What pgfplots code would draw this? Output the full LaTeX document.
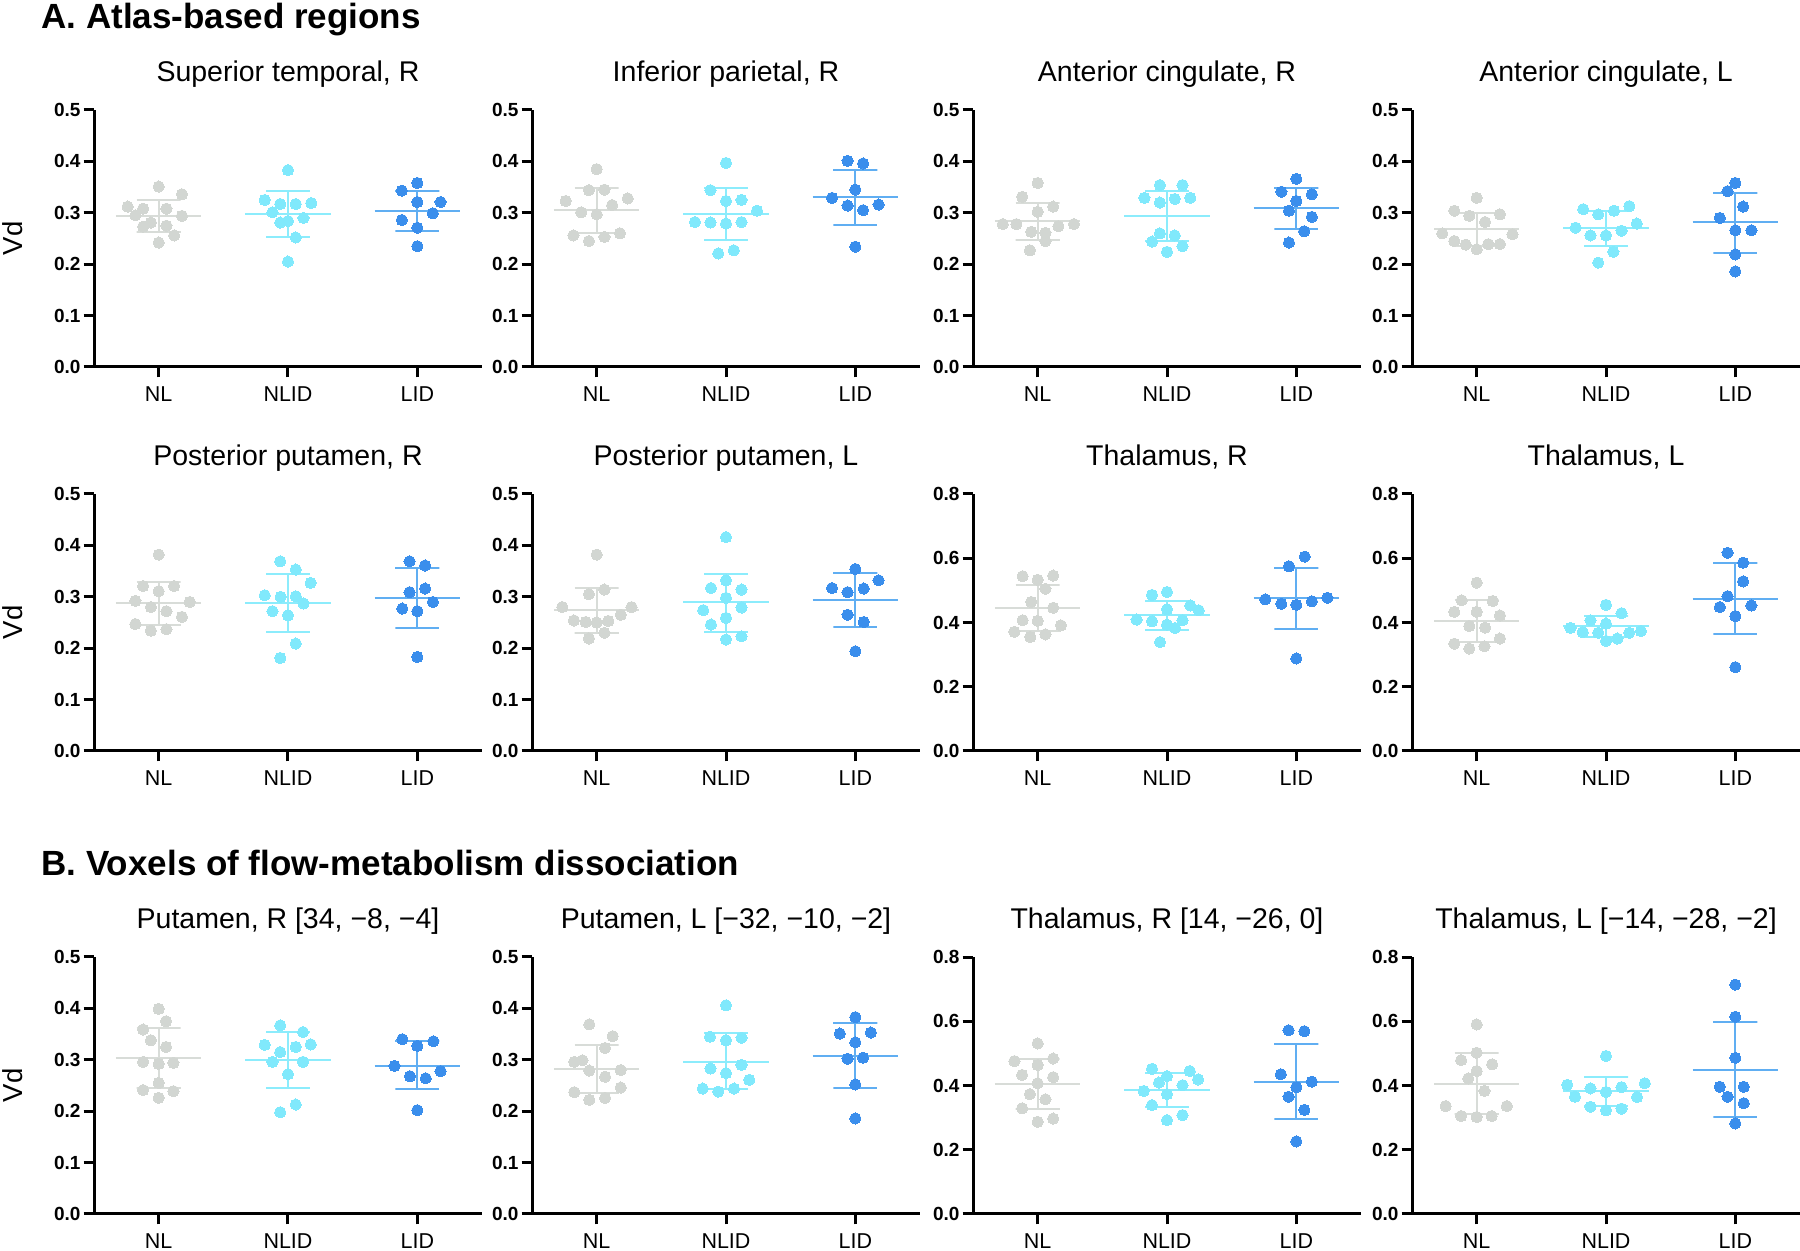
\documentclass[border=0pt]{standalone}
\usepackage{fontspec}
\setmainfont{Liberation Sans}
\usepackage{pgfplots}
\pgfplotsset{compat=1.18}
\definecolor{cNL}{RGB}{210,214,210}
\definecolor{cNLl}{RGB}{216,220,216}
\definecolor{cNLID}{RGB}{128,233,252}
\definecolor{cNLIDl}{RGB}{140,236,252}
\definecolor{cLID}{RGB}{58,142,236}
\definecolor{cLIDl}{RGB}{96,174,242}
\pgfplotsset{
 panel/.style={
  scale only axis, width=155.2pt, height=102.8pt, anchor=south west,
  xmin=-0.5, xmax=2.5, ymin=0, clip=false,
  axis x line=bottom, axis y line=left,
  axis line style={line width=1.2pt, black, -},
  xtick={0,1,2}, xticklabels={NL,NLID,LID},
  tick align=outside, major tick length=4.2pt,
  tick style={line width=1.2pt, black},
  minor tick num=0,
  /pgf/number format/assume math mode=true,
  yticklabel style={font=\bfseries\fontsize{7.6}{8}\selectfont, inner sep=1pt,
     /pgf/number format/fixed, /pgf/number format/precision=1, /pgf/number format/fixed zerofill},
  xticklabel style={font=\fontsize{8.6}{9}\selectfont},
  title style={font=\fontsize{11.4}{13}\selectfont, at={(axis description cs:0.5,1)}, anchor=base, yshift=5.5pt},
  ylabel style={font=\fontsize{11}{13}\selectfont, at={(axis description cs:-0.21,0.5)}, anchor=center},
 },
 low/.style={ymax=0.5, ytick={0,0.1,0.2,0.3,0.4,0.5}},
 high/.style={ymax=0.8, ytick={0,0.2,0.4,0.6,0.8}},
}
% #1 centre, #2 dot colour, #3 line colour, #4 mean, #5 mean-SD, #6 mean+SD, #7 points (offset, value)
\newcommand{\grp}[7]{%
 \addplot[#2, only marks, mark=*, mark size=2.25pt, mark options={draw=#2, fill=#2, line width=0pt}, x filter/.expression={x+#1}] coordinates {#7};
 \addplot[no marks, line width=0.8pt, draw=#3, x filter/.expression={x+#1}] coordinates {(-0.33,#4) (0.33,#4)};
 \addplot[no marks, line width=0.8pt, draw=#3, line join=bevel, x filter/.expression={x+#1}] coordinates {(-0.17,#6) (0.17,#6) (0,#6) (0,#5) (-0.17,#5) (0.17,#5)};
}
\begin{document}
\begin{tikzpicture}
\useasboundingbox (0,0) rectangle (720pt,500.4pt);
\node[anchor=base west, font=\bfseries\fontsize{14}{16}\selectfont, inner sep=0pt] at (16.4pt,489pt) {A. Atlas-based regions};
\node[anchor=base west, font=\bfseries\fontsize{14}{16}\selectfont, inner sep=0pt] at (16.4pt,150pt) {B. Voxels of flow-metabolism dissociation};

% ---------- Row 1 ----------
\begin{axis}[panel, low, at={(37.6pt,353.6pt)}, title={Superior temporal, R}, ylabel={Vd}]
\grp{0}{cNL}{cNLl}{0.294}{0.262}{0.325}{(0,0.351) (0.18,0.336) (-0.24,0.312) (-0.12,0.308) (0.06,0.308) (-0.18,0.295) (0.18,0.294) (-0.06,0.281) (-0.12,0.273) (0.06,0.275) (0.12,0.256) (0,0.242)}
\grp{1}{cNLID}{cNLIDl}{0.298}{0.253}{0.342}{(0,0.383) (-0.18,0.325) (0.18,0.319) (-0.06,0.317) (0.06,0.317) (-0.12,0.301) (0.12,0.290) (-0.06,0.281) (0,0.284) (0.06,0.252) (0,0.205)}
\grp{2}{cLID}{cLIDl}{0.304}{0.264}{0.343}{(0,0.358) (-0.12,0.343) (0,0.321) (0.18,0.321) (0.12,0.299) (-0.12,0.286) (0,0.271) (0,0.235)}
\end{axis}

\begin{axis}[panel, low, at={(212.8pt,353.6pt)}, title={Inferior parietal, R}]
\grp{0}{cNL}{cNLl}{0.305}{0.260}{0.349}{(0,0.385) (-0.06,0.344) (0.06,0.345) (-0.24,0.323) (0.24,0.328) (0.12,0.315) (-0.12,0.301) (0,0.297) (-0.18,0.256) (0.06,0.253) (0.18,0.260) (-0.06,0.245)}
\grp{1}{cNLID}{cNLIDl}{0.298}{0.247}{0.348}{(0,0.397) (-0.12,0.344) (0,0.323) (0.12,0.325) (0.24,0.304) (-0.24,0.282) (-0.12,0.281) (0,0.279) (0.12,0.282) (0.06,0.227) (-0.06,0.221)}
\grp{2}{cLID}{cLIDl}{0.330}{0.276}{0.383}{(-0.06,0.401) (0.06,0.396) (0,0.345) (-0.18,0.329) (-0.06,0.314) (0.06,0.305) (0.18,0.316) (0,0.234)}
\end{axis}

\begin{axis}[panel, low, at={(389.2pt,353.6pt)}, title={Anterior cingulate, R}]
\grp{0}{cNL}{cNLl}{0.284}{0.247}{0.320}{(0,0.358) (-0.12,0.331) (0.12,0.312) (0,0.302) (-0.27,0.278) (-0.165,0.278) (0.16,0.274) (0.28,0.278) (-0.05,0.263) (0.06,0.261) (0.06,0.245) (-0.06,0.227)}
\grp{1}{cNLID}{cNLIDl}{0.294}{0.245}{0.342}{(-0.055,0.354) (0.12,0.354) (-0.175,0.329) (0.18,0.329) (0.06,0.327) (-0.055,0.320) (-0.055,0.260) (0.06,0.256) (-0.115,0.244) (0.12,0.235) (0,0.224)}
\grp{2}{cLID}{cLIDl}{0.310}{0.268}{0.349}{(0,0.366) (-0.115,0.341) (0.12,0.336) (0,0.323) (-0.057,0.304) (0.12,0.292) (0.06,0.264) (-0.057,0.242)}
\end{axis}

\begin{axis}[panel, low, at={(564.8pt,353.6pt)}, title={Anterior cingulate, L}]
\grp{0}{cNL}{cNLl}{0.268}{0.236}{0.300}{(0,0.329) (-0.173,0.304) (-0.057,0.294) (0.18,0.297) (0.065,0.282) (-0.266,0.260) (0.277,0.258) (-0.173,0.245) (-0.085,0.238) (0.09,0.239) (0.18,0.239) (0,0.229)}
\grp{1}{cNLID}{cNLIDl}{0.270}{0.236}{0.304}{(-0.176,0.307) (-0.06,0.297) (0.062,0.304) (0.18,0.313) (0.238,0.279) (-0.235,0.271) (0.12,0.265) (-0.12,0.256) (0,0.256) (0.057,0.224) (-0.06,0.203)}
\grp{2}{cLID}{cLIDl}{0.282}{0.222}{0.338}{(0,0.358) (-0.06,0.342) (0.06,0.312) (-0.12,0.290) (0,0.266) (0.124,0.266) (0,0.219) (0,0.186)}
\end{axis}

% ---------- Row 2 ----------
\begin{axis}[panel, low, at={(37.6pt,200pt)}, title={Posterior putamen, R}, ylabel={Vd}]
\grp{0}{cNL}{cNLl}{0.287}{0.245}{0.329}{(0,0.382) (-0.12,0.321) (0.12,0.321) (0,0.311) (-0.18,0.292) (0.24,0.290) (-0.06,0.280) (0.06,0.272) (0.18,0.261) (-0.18,0.247) (-0.06,0.234) (0.06,0.237)}
\grp{1}{cNLID}{cNLIDl}{0.288}{0.232}{0.344}{(-0.06,0.369) (0.06,0.353) (0.175,0.327) (-0.18,0.303) (-0.057,0.300) (0.06,0.301) (0.12,0.287) (-0.12,0.272) (0,0.264) (0.06,0.209) (-0.06,0.181)}
\grp{2}{cLID}{cLIDl}{0.298}{0.239}{0.356}{(-0.06,0.369) (0.06,0.361) (-0.06,0.309) (0.06,0.316) (0.12,0.290) (-0.116,0.277) (0,0.272) (0,0.183)}
\end{axis}

\begin{axis}[panel, low, at={(212.8pt,200pt)}, title={Posterior putamen, L}]
\grp{0}{cNL}{cNLl}{0.275}{0.230}{0.318}{(0,0.382) (0.06,0.314) (-0.06,0.305) (-0.266,0.280) (0.27,0.280) (0.186,0.265) (-0.176,0.254) (-0.085,0.251) (0,0.250) (0.09,0.253) (0.06,0.230) (-0.06,0.219)}
\grp{1}{cNLID}{cNLIDl}{0.289}{0.232}{0.345}{(0,0.416) (0,0.332) (-0.116,0.317) (0.12,0.314) (0,0.298) (0.12,0.279) (-0.176,0.274) (0,0.259) (-0.116,0.246) (0.12,0.223) (0,0.217)}
\grp{2}{cLID}{cLIDl}{0.293}{0.241}{0.346}{(0,0.354) (0.18,0.332) (-0.18,0.317) (-0.06,0.309) (0.065,0.316) (-0.06,0.265) (0.065,0.251) (0,0.194)}
\end{axis}

\begin{axis}[panel, high, at={(389.2pt,200pt)}, title={Thalamus, R}]
\grp{0}{cNL}{cNLl}{0.445}{0.372}{0.518}{(-0.116,0.544) (0.12,0.546) (0,0.533) (0.06,0.505) (-0.05,0.464) (0.12,0.446) (-0.116,0.407) (0,0.405) (0.18,0.391) (-0.18,0.371) (0.06,0.363) (-0.057,0.355)}
\grp{1}{cNLID}{cNLIDl}{0.423}{0.378}{0.468}{(-0.116,0.486) (0,0.495) (0.18,0.453) (0.245,0.438) (0,0.441) (-0.235,0.409) (-0.116,0.404) (0.12,0.407) (0,0.393) (0.062,0.383) (-0.054,0.339)}
\grp{2}{cLID}{cLIDl}{0.475}{0.380}{0.571}{(0.065,0.605) (-0.057,0.575) (-0.24,0.472) (-0.116,0.458) (0,0.455) (0.12,0.466) (0.24,0.477) (0,0.288)}
\end{axis}

\begin{axis}[panel, high, at={(564.8pt,200pt)}, title={Thalamus, L}]
\grp{0}{cNL}{cNLl}{0.405}{0.339}{0.469}{(0,0.524) (-0.116,0.469) (0.124,0.467) (-0.173,0.433) (0,0.433) (0.18,0.422) (-0.057,0.389) (0.065,0.384) (0.18,0.350) (-0.173,0.334) (0.06,0.326) (-0.057,0.319)}
\grp{1}{cNLID}{cNLIDl}{0.389}{0.354}{0.420}{(0,0.455) (0.12,0.429) (-0.12,0.407) (0,0.396) (-0.274,0.383) (-0.18,0.370) (-0.06,0.368) (0.18,0.368) (0.27,0.373) (0,0.343) (0.088,0.350)}
\grp{2}{cLID}{cLIDl}{0.474}{0.364}{0.585}{(-0.06,0.617) (0.06,0.586) (0.06,0.528) (-0.06,0.482) (-0.12,0.448) (0.124,0.453) (0,0.420) (0,0.261)}
\end{axis}

% ---------- Row 3 ----------
\begin{axis}[panel, low, at={(37.6pt,14.8pt)}, title={Putamen, R [34, −8, −4]}, ylabel={Vd}]
\grp{0}{cNL}{cNLl}{0.303}{0.246}{0.361}{(0,0.399) (0.057,0.375) (-0.12,0.359) (-0.06,0.338) (0.057,0.325) (-0.12,0.296) (0,0.292) (0.114,0.294) (0,0.255) (-0.12,0.241) (0.114,0.239) (0,0.226)}
\grp{1}{cNLID}{cNLIDl}{0.300}{0.246}{0.354}{(-0.06,0.367) (0.116,0.354) (-0.18,0.329) (0.176,0.330) (0.06,0.325) (-0.06,0.315) (-0.12,0.296) (0.116,0.296) (0,0.272) (0.06,0.213) (-0.06,0.198)}
\grp{2}{cLID}{cLIDl}{0.288}{0.243}{0.336}{(-0.116,0.340) (0.124,0.336) (0,0.327) (-0.176,0.288) (0.18,0.278) (-0.057,0.268) (0.065,0.264) (0,0.202)}
\end{axis}

\begin{axis}[panel, low, at={(212.8pt,14.8pt)}, title={Putamen, L [−32, −10, −2]}]
\grp{0}{cNL}{cNLl}{0.283}{0.236}{0.329}{(-0.057,0.369) (0.124,0.346) (0.065,0.323) (-0.173,0.296) (-0.11,0.299) (-0.057,0.279) (0.186,0.280) (0.065,0.267) (-0.173,0.237) (0.186,0.246) (0.065,0.226) (-0.057,0.222)}
\grp{1}{cNLID}{cNLIDl}{0.296}{0.243}{0.352}{(0,0.406) (-0.124,0.345) (0.12,0.343) (0,0.338) (0.12,0.290) (-0.12,0.283) (0,0.274) (0.18,0.261) (-0.18,0.244) (-0.06,0.238) (0.062,0.244)}
\grp{2}{cLID}{cLIDl}{0.308}{0.246}{0.372}{(0,0.383) (-0.12,0.351) (0.12,0.353) (0,0.334) (-0.06,0.302) (0.06,0.304) (0,0.252) (0,0.186)}
\end{axis}

\begin{axis}[panel, high, at={(389.2pt,14.8pt)}, title={Thalamus, R [14, −26, 0]}]
\grp{0}{cNL}{cNLl}{0.405}{0.327}{0.482}{(0,0.531) (-0.18,0.476) (0.12,0.484) (0,0.464) (-0.12,0.433) (0.12,0.426) (0,0.407) (-0.06,0.373) (0.06,0.357) (-0.12,0.329) (0.12,0.297) (0,0.287)}
\grp{1}{cNLID}{cNLIDl}{0.387}{0.334}{0.440}{(-0.116,0.452) (0.176,0.445) (0,0.429) (0.24,0.419) (-0.062,0.409) (0.12,0.401) (-0.18,0.383) (0,0.373) (-0.116,0.339) (0.12,0.308) (0,0.292)}
\grp{2}{cLID}{cLIDl}{0.412}{0.296}{0.530}{(-0.06,0.572) (0.062,0.569) (-0.12,0.435) (0.12,0.412) (0,0.395) (-0.06,0.365) (0.062,0.324) (0,0.226)}
\end{axis}

\begin{axis}[panel, high, at={(564.8pt,14.8pt)}, title={Thalamus, L [−14, −28, −2]}]
\grp{0}{cNL}{cNLl}{0.405}{0.311}{0.500}{(0,0.590) (0,0.502) (-0.12,0.479) (0.12,0.466) (0,0.445) (-0.065,0.422) (0.06,0.383) (-0.24,0.336) (0.233,0.336) (-0.12,0.305) (0,0.302) (0.116,0.305)}
\grp{1}{cNLID}{cNLIDl}{0.383}{0.335}{0.427}{(0,0.492) (-0.3,0.402) (0.3,0.407) (-0.12,0.391) (0.12,0.395) (0,0.380) (-0.24,0.365) (0.24,0.364) (-0.12,0.334) (0.12,0.328) (0,0.323)}
\grp{2}{cLID}{cLIDl}{0.449}{0.303}{0.598}{(0,0.714) (0,0.614) (0,0.486) (-0.12,0.396) (0.065,0.396) (-0.06,0.365) (0.065,0.345) (0,0.282)}
\end{axis}
\end{tikzpicture}
\end{document}
